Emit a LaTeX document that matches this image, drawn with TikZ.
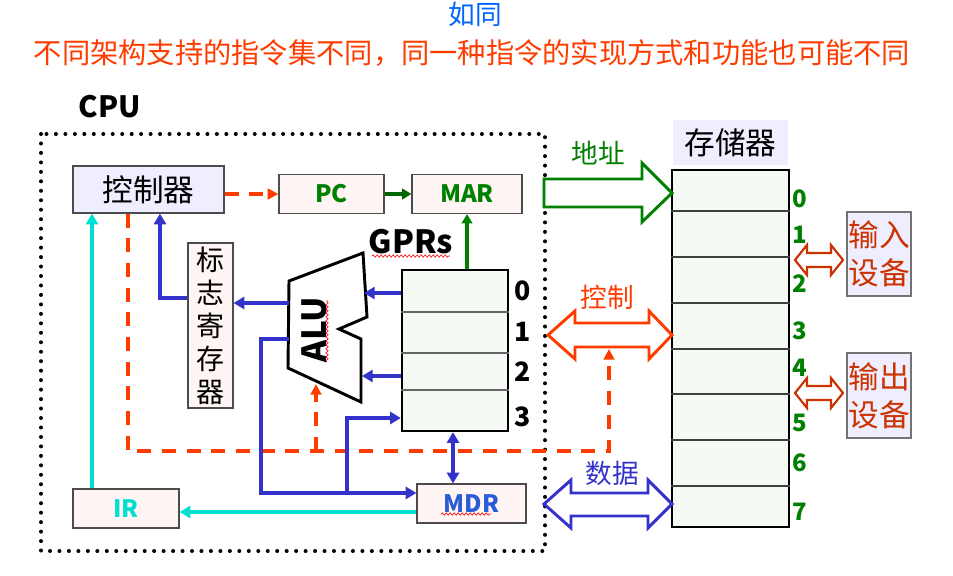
\documentclass[tikz,border=0pt]{standalone}
\usepackage{fontspec}
\setmainfont{Noto Sans CJK SC}
\usetikzlibrary{arrows.meta,decorations.pathmorphing}

\definecolor{busred}{RGB}{255,60,0}
\definecolor{busblue}{RGB}{51,51,204}
\definecolor{buscyan}{RGB}{0,224,208}
\definecolor{busgreen}{RGB}{0,128,0}
\definecolor{iored}{RGB}{204,51,0}
\definecolor{titleblue}{RGB}{0,102,255}
\definecolor{lav}{RGB}{238,238,255}
\definecolor{regpink}{RGB}{255,245,245}
\definecolor{cellgray}{RGB}{245,250,245}

% double headed hollow bus arrow for the io devices
\newcommand{\iobus}[1]{%
  \draw[iored, line width=1.6pt, fill=white]
    (795,#1) -- (807,#1-15) -- (807,#1-7) -- (831,#1-7) -- (831,#1-15)
    -- (843,#1) -- (831,#1+15) -- (831,#1+7) -- (807,#1+7) -- (807,#1+15) -- cycle;}

\begin{document}
\begin{tikzpicture}[x=0.75pt,y=-0.75pt,
    box/.style={draw=black!70, line width=0.9pt, inner sep=0pt},
    reg/.style={box, fill=regpink, font=\bfseries\fontsize{18}{20}\selectfont},
    lavbox/.style={box, fill=lav},
    blueline/.style={busblue, line width=3pt, -{Triangle[length=8pt,width=9pt]}},
    reddash/.style={busred, line width=3pt, dash pattern=on 10.5pt off 8pt, -{Triangle[length=8pt,width=8pt]}},
    cyanline/.style={buscyan, line width=3pt, -{Triangle[length=8pt,width=9pt]}},
    regnum/.style={font=\bfseries\fontsize{20}{22}\selectfont},
    memnum/.style={busgreen, font=\bfseries\fontsize{18}{20}\selectfont},
    spell/.style={red, line width=0.5pt, decorate, decoration={snake, amplitude=0.8pt, segment length=3pt}}]

\useasboundingbox[fill=white] (0,0) rectangle (953,575);

% titles
\node[titleblue, font=\fontsize{20}{22}\selectfont] (t1) at (475,14) {如同};
\node[busred, font=\fontsize{21.2}{24}\selectfont] (t2) at (472,53) {不同架构支持的指令集不同，同一种指令的实现方式和功能也可能不同};

% cpu frame
\node[font=\bfseries\fontsize{22}{24}\selectfont] (cpu) at (110,107) {CPU};
\draw[line width=3pt, dash pattern=on 0pt off 7.1pt, line cap=round] (41,134) rectangle (545,551);

% boxes
\node[lavbox, minimum width=113.25pt, minimum height=35.25pt, font=\fontsize{23}{25}\selectfont] (ctrl) at (148.5,189.5) {控制器};
\node[reg, text=busgreen, minimum width=78.75pt, minimum height=29.25pt] (pc) at (331.5,194) {PC};
\node[reg, text=busgreen, minimum width=82.5pt, minimum height=29.25pt] (mar) at (467,194) {MAR};
\node[box, fill=regpink, minimum width=33.75pt, minimum height=123.75pt, align=center,
      font=\fontsize{21}{24.75}\selectfont] (flag) at (210.5,325.5) {标\\志\\寄\\存\\器};
\node[reg, text=buscyan, minimum width=79.5pt, minimum height=29.25pt] (ir) at (126,508.5) {IR};
\node[reg, text=busblue!80!cyan, minimum width=81.75pt, minimum height=29.25pt] (mdr) at (471.5,503.5) {MDR};

% registers
\node[draw, line width=1.8pt, fill=cellgray, minimum width=79.5pt, minimum height=120.75pt] (gpr) at (455,350.5) {};
\foreach \y in {312,353,390}
  \draw[black!60, line width=1pt] (gpr.west |- 0,\y) -- (gpr.east |- 0,\y);
\foreach \n/\y in {0/291,1/332,2/372,3/417}
  \node[regnum] (g\n) at (523,\y) {\n};
\node[font=\bfseries\fontsize{24}{26}\selectfont] (gprs) at (411,242) {GPRs};

% alu
\coordinate (aluIn1) at (364,293);
\coordinate (aluIn2) at (362,376);
\coordinate (aluOut) at (289,303);
\coordinate (aluL2) at (289,339);
\coordinate (aluBot) at (316,384);
\draw[line width=2.2pt, line join=miter] (289,281) -- (363,253) -- (367,317) -- (339,329)
  -- (361,339) -- (361,402) -- (288,368) -- cycle;
\node[rotate=90, font=\bfseries\fontsize{25}{27}\selectfont] (alu) at (314,330) {ALU};

% spell marks
\draw[spell] (372,256) -- (450,256);
\draw[spell] (327,362) -- (327,300);
\draw[spell] (441,514) -- (491,514);

% memory
\node[fill=lav, minimum width=86.25pt, minimum height=33.75pt, font=\fontsize{23}{25}\selectfont] (memlbl) at (730.5,142.5) {存储器};
\node[draw, line width=2.2pt, fill=cellgray, minimum width=87.75pt, minimum height=267.75pt] (mem) at (730.5,348.5) {};
\foreach \y in {211,257,303,349,394,440,486}
  \draw[black!75, line width=0.9pt] (mem.west |- 0,\y) -- (mem.east |- 0,\y);
\foreach \n/\y in {0/199,1/235,2/284,3/331,4/368,5/423,6/463,7/512}
  \node[memnum] (m\n) at (800,\y) {\n};

% io devices
\node[box, draw=black!55, fill=lav, text=iored, minimum width=48pt, minimum height=63pt, align=center,
      font=\fontsize{23}{28.5}\selectfont] (indev) at (879,254) {输入\\设备};
\node[box, draw=black!55, fill=lav, text=iored, minimum width=48pt, minimum height=63.75pt, align=center,
      font=\fontsize{23}{28.5}\selectfont] (outdev) at (879,395.5) {输出\\设备};
\iobus{260}
\iobus{393}

% buses
\draw[busgreen, line width=2.2pt, fill=white] (544,179) -- (642,179) -- (642,163) -- (672,193)
  -- (642,222) -- (642,207) -- (544,207) -- cycle;
\node[busgreen, font=\fontsize{20}{22}\selectfont] (addr) at (598,153) {地址};
\draw[busred, line width=2.2pt, fill=white] (548,335) -- (575,311) -- (575,323) -- (649,323) -- (649,311)
  -- (672,335) -- (649,359) -- (649,347) -- (575,347) -- (575,359) -- cycle;
\node[busred, font=\fontsize{20}{22}\selectfont] (ctl) at (607,297) {控制};
\coordinate (ctlbot) at (609,349);
\draw[busblue, line width=2.2pt, fill=white] (544,504) -- (571,480) -- (571,493) -- (648,493) -- (648,480)
  -- (672,504) -- (648,528) -- (648,516) -- (571,516) -- (571,528) -- cycle;
\node[busblue, font=\fontsize{20}{22}\selectfont] (data) at (612,473) {数据};

% connections
\draw[reddash] (ctrl.east |- pc.west) -- (pc.west);
\draw[busgreen!80!black, line width=2.4pt, -{Triangle[length=7pt,width=8pt]}] (pc) -- (mar);
\draw[busgreen, line width=2.4pt, -{Triangle[length=7pt,width=8pt]}] (gpr.north -| mar) -- (mar.south);
\draw[blueline] (gpr.west |- aluIn1) -- (aluIn1);
\draw[blueline] (gpr.west |- aluIn2) -- (aluIn2);
\draw[blueline] (aluOut) -- (flag.east |- aluOut);
\draw[blueline] (flag.west |- 0,298) -| ([xshift=8.6pt]ctrl.south);
\draw[cyanline] ([xshift=-25.5pt]ir.north) -- ([xshift=-25.5pt]ir.north |- ctrl.south);
\draw[reddash] ([xshift=-15.4pt]ctrl.south) |- (ctlbot |- 0,451) -- (ctlbot);
\draw[reddash] (aluBot |- 0,451) -- (aluBot);
\coordinate (tap) at (347,493);
\draw[blueline] (aluL2) -- (261,339) |- ([yshift=7.9pt]mdr.west);
\draw[blueline] (tap) |- (gpr.west |- 0,418);
\draw[blueline, {Triangle[length=8pt,width=9pt]}-{Triangle[length=8pt,width=9pt]}]
  ([xshift=-1.5pt]gpr.south) -- ([xshift=-1.5pt]gpr.south |- mdr.north);
\draw[cyanline] ([yshift=-6.4pt]mdr.west) -- ([yshift=-6.4pt]mdr.west -| ir.east);

\end{tikzpicture}
\end{document}
